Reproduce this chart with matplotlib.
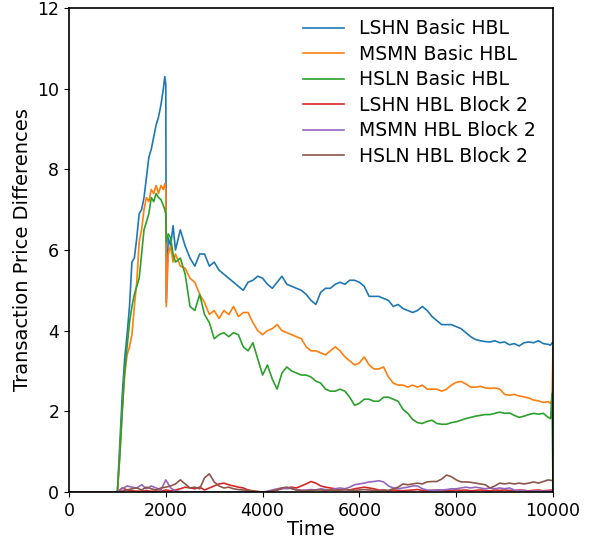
import numpy as np
import matplotlib
matplotlib.use("Agg")
import matplotlib.pyplot as plt

# time grid for the three Basic HBL series
time_basic = np.concatenate([
    [0, 1000], np.arange(1050, 2000, 50),
    [1980, 2000, 2010, 2050, 2100, 2150],
    np.arange(2200, 10000, 100), [9950, 9980, 10000]])

lshn_basic = (
    [0, 0] +
    [1.2, 2.4, 3.3, 3.9, 4.6, 5.7, 5.8, 6.3, 6.9, 7.0, 7.3, 7.8, 8.3, 8.5, 8.8, 9.1, 9.3, 9.6, 10.0] +
    [10.3, 10.1, 4.7, 6.3, 6.1, 6.6] +
    [6.0, 6.5, 6.1, 5.8, 5.6, 5.9, 5.9, 5.6, 5.7, 5.5,
     5.4, 5.3, 5.2, 5.1, 5.0, 5.2, 5.25, 5.35, 5.3, 5.15,
     5.05, 5.2, 5.35, 5.15, 5.1, 5.05, 5.0, 4.9, 4.75, 4.65,
     4.95, 5.05, 5.05, 5.15, 5.2, 5.15, 5.25, 5.25, 5.2, 5.1,
     4.85, 4.85, 4.85, 4.8, 4.75, 4.6, 4.65, 4.55, 4.5, 4.45,
     4.5, 4.6, 4.5, 4.35, 4.25, 4.15, 4.15, 4.15, 4.1, 4.05,
     3.95, 3.85, 3.78, 3.75, 3.73, 3.72, 3.75, 3.7, 3.72, 3.65,
     3.68, 3.62, 3.7, 3.72, 3.7, 3.75, 3.68, 3.66] +
    [3.64, 3.7, 3.7])

msmn_basic = (
    [0, 0] +
    [0.9, 2.0, 2.9, 3.4, 3.6, 3.9, 4.6, 5.2, 6.2, 6.5, 7.0, 7.3, 7.2, 7.5, 7.4, 7.6, 7.4, 7.6, 7.5] +
    [7.65, 7.5, 4.6, 5.9, 6.1, 5.7] +
    [5.9, 5.6, 5.55, 5.3, 5.2, 4.9, 4.7, 4.4, 4.5, 4.3,
     4.5, 4.4, 4.6, 4.35, 4.45, 4.45, 4.2, 4.0, 3.9, 4.0,
     4.05, 4.15, 4.0, 3.95, 3.9, 3.85, 3.8, 3.6, 3.5, 3.5,
     3.45, 3.4, 3.5, 3.6, 3.5, 3.35, 3.25, 3.15, 3.2, 3.35,
     3.15, 3.05, 3.05, 3.1, 2.85, 2.7, 2.65, 2.65, 2.6, 2.65,
     2.6, 2.65, 2.55, 2.55, 2.55, 2.5, 2.55, 2.65, 2.72, 2.74,
     2.68, 2.6, 2.6, 2.62, 2.58, 2.57, 2.58, 2.55, 2.42, 2.4,
     2.42, 2.38, 2.36, 2.33, 2.28, 2.26, 2.22, 2.24] +
    [2.2, 2.3, 3.6])

hsln_basic = (
    [0, 0] +
    [0.9, 2.0, 3.0, 3.6, 4.2, 4.6, 4.9, 5.1, 5.3, 5.9, 6.5, 6.7, 6.9, 7.3, 7.2, 7.4, 7.3, 7.25, 7.1] +
    [7.0, 6.9, 6.2, 6.4, 6.3, 5.9] +
    [5.7, 5.8, 5.4, 4.6, 4.5, 4.9, 4.4, 4.2, 3.8, 3.9,
     3.95, 3.85, 3.95, 3.9, 3.6, 3.5, 3.7, 3.3, 2.9, 3.15,
     2.8, 2.55, 2.95, 3.1, 3.0, 2.95, 2.9, 2.9, 2.85, 2.75,
     2.7, 2.55, 2.5, 2.5, 2.55, 2.5, 2.35, 2.15, 2.2, 2.3,
     2.3, 2.25, 2.25, 2.35, 2.35, 2.3, 2.25, 2.05, 1.95, 1.8,
     1.72, 1.7, 1.75, 1.78, 1.7, 1.68, 1.68, 1.72, 1.74, 1.78,
     1.82, 1.85, 1.88, 1.9, 1.92, 1.92, 1.95, 1.98, 1.95, 1.96,
     1.9, 1.85, 1.88, 1.92, 1.95, 1.93, 1.95, 1.85] +
    [1.82, 2.45, 0])

# time grid for the Block 2 series
time_block = np.arange(0, 10001, 100)

lshn_block2 = [0] * 11 + [
    0.1, 0.05, 0.03, 0.02, 0.02, 0.03, 0.02, 0.02, 0.02, 0.05,
    0.03, 0.05, 0.08, 0.12, 0.1, 0.08, 0.12, 0.05, 0.1, 0.15,
    0.2, 0.22, 0.18, 0.15, 0.12, 0.1, 0.05, 0.03, 0.01, 0.0,
    0.0, 0.02, 0.05, 0.08, 0.1, 0.12, 0.1, 0.15, 0.2, 0.26,
    0.22, 0.15, 0.12, 0.1, 0.08, 0.05, 0.06, 0.05, 0.08, 0.1,
    0.12, 0.1, 0.08, 0.05, 0.04, 0.03, 0.05, 0.04, 0.03, 0.04,
    0.05, 0.06, 0.04, 0.03, 0.04, 0.05, 0.04, 0.03, 0.04, 0.05,
    0.04, 0.05, 0.03, 0.04, 0.05, 0.04, 0.03, 0.05, 0.04, 0.05,
    0.04, 0.03, 0.05, 0.04, 0.03, 0.04, 0.05, 0.03, 0.04, 0.05]

msmn_block2 = [0] * 11 + [
    0.08, 0.15, 0.12, 0.1, 0.18, 0.08, 0.15, 0.1, 0.05, 0.3,
    0.1, 0.03, 0.01, 0, 0, 0, 0, 0, 0, 0,
    0, 0, 0, 0, 0, 0, 0, 0, 0, 0,
    0.02, 0.05, 0.08, 0.1, 0.08, 0.1, 0.05, 0.04, 0.05, 0.06,
    0.05, 0.08, 0.06, 0.05, 0.08, 0.1, 0.08, 0.12, 0.18, 0.2,
    0.22, 0.25, 0.26, 0.28, 0.25, 0.15, 0.1, 0.08, 0.1, 0.12,
    0.15, 0.15, 0.08, 0.05, 0.04, 0.05, 0.05, 0.06, 0.08, 0.08,
    0.1, 0.12, 0.1, 0.12, 0.1, 0.08, 0.1, 0.08, 0.1, 0.08,
    0.1, 0.05, 0.03, 0.04, 0.02, 0.02, 0.03, 0.02, 0.02, 0.02]

hsln_block2 = [0] * 11 + [
    0.02, 0.05, 0.08, 0.1, 0.05, 0.12, 0.08, 0.05, 0.1, 0.12,
    0.15, 0.2, 0.3, 0.2, 0.1, 0.12, 0.08, 0.35, 0.45, 0.25,
    0.15, 0.1, 0.12, 0.08, 0.06, 0.05, 0.04, 0.02, 0.01, 0,
    0, 0.03, 0.05, 0.1, 0.12, 0.08, 0.05, 0.04, 0.03, 0.04,
    0.05, 0.05, 0.04, 0.05, 0.04, 0.05, 0.06, 0.05, 0.04, 0.05,
    0.06, 0.05, 0.04, 0.03, 0.05, 0.04, 0.08, 0.12, 0.2, 0.18,
    0.2, 0.22, 0.2, 0.25, 0.26, 0.26, 0.32, 0.42, 0.38, 0.3,
    0.25, 0.25, 0.24, 0.22, 0.2, 0.18, 0.1, 0.15, 0.22, 0.2,
    0.22, 0.2, 0.22, 0.2, 0.22, 0.25, 0.22, 0.26, 0.3, 0.28]

labels = ["LSHN Basic HBL", "MSMN Basic HBL", "HSLN Basic HBL",
          "LSHN HBL Block 2", "MSMN HBL Block 2", "HSLN HBL Block 2"]
x_ticks = [0, 2000, 4000, 6000, 8000, 10000]
y_ticks = [0, 2, 4, 6, 8, 10, 12]

fig = plt.figure(figsize=(5.94, 5.41), dpi=100)
ax = fig.add_axes([69 / 594, 1 - 492 / 541, (553 - 69) / 594, (492 - 8) / 541])

series = [(time_basic, lshn_basic), (time_basic, msmn_basic), (time_basic, hsln_basic),
          (time_block, lshn_block2), (time_block, msmn_block2), (time_block, hsln_block2)]
colors = ["tab:blue", "tab:orange", "tab:green", "tab:red", "tab:purple", "tab:brown"]
for (t, v), lab, c in zip(series, labels, colors):
    ax.plot(t, v, color=c, lw=1.2, label=lab)

ax.set_xlim(0, 10000)
ax.set_ylim(0, 12)
ax.set_xticks(x_ticks)
ax.set_yticks(y_ticks)
ax.tick_params(labelsize=12.5)
ax.set_xlabel("Time", fontsize=14, labelpad=0)
ax.set_ylabel("Transaction Price Differences", fontsize=14, labelpad=4)
ax.legend(loc="upper right", frameon=False, fontsize=13.5, handlelength=2.2,
          handletextpad=0.8, labelspacing=0.35, bbox_to_anchor=(1.0, 1.012))
for s in ax.spines.values():
    s.set_linewidth(1.2)

fig.savefig("out.png", dpi=100)
